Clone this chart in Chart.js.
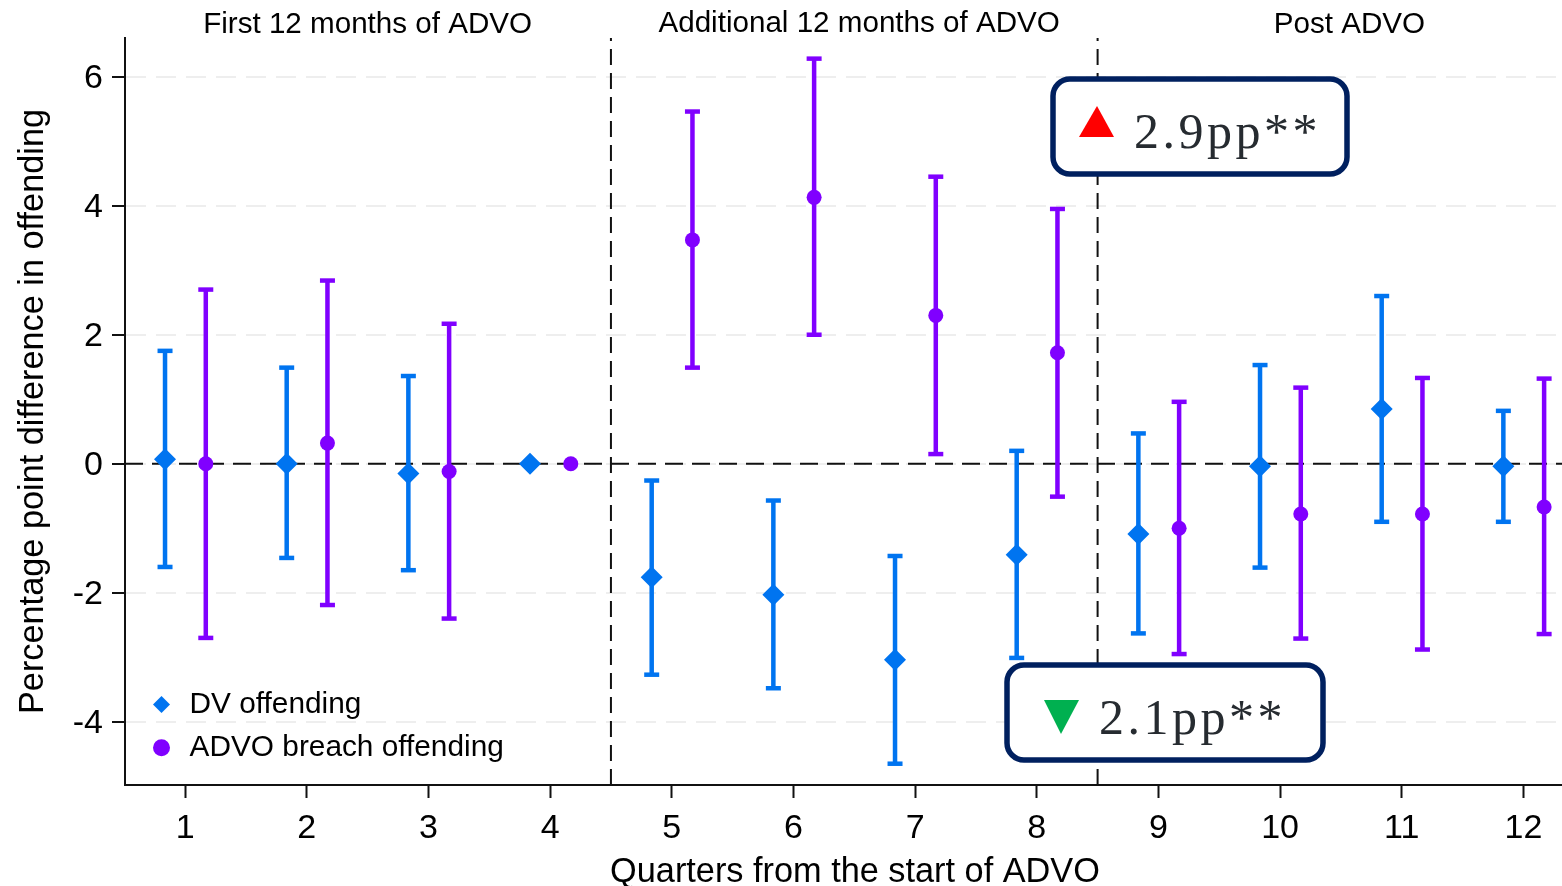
<!DOCTYPE html>
<html>
<head>
<meta charset="utf-8">
<title>Offending by quarter from the start of ADVO</title>
<script src="https://cdn.jsdelivr.net/npm/chart.js@4"></script>
<style>
    html, body { margin: 0; padding: 0; background: #fff; overflow: hidden; }
    #wrap { width: 1562px; height: 886px; overflow: hidden; }
</style>
</head>
<body>
<div id="wrap"><canvas id="offendingChart" width="1597" height="886"></canvas></div>
<script>
var quarters = [1, 2, 3, 4, 5, 6, 7, 8, 9, 10, 11, 12];

var dvMid = [0.07, 0, -0.15, 0, -1.76, -2.03, -3.04, -1.41, -1.09, -0.04, 0.85, -0.04];
var dvHigh = [1.75, 1.49, 1.36, null, -0.26, -0.57, -1.43, 0.2, 0.47, 1.53, 2.6, 0.82];
var dvLow = [-1.6, -1.46, -1.65, null, -3.27, -3.48, -4.65, -3.01, -2.63, -1.61, -0.9, -0.9];

var breachMid = [0, 0.32, -0.12, 0, 3.47, 4.13, 2.3, 1.72, -1.0, -0.78, -0.78, -0.67];
var breachHigh = [2.7, 2.84, 2.17, null, 5.46, 6.28, 4.45, 3.95, 0.96, 1.18, 1.33, 1.32];
var breachLow = [-2.7, -2.19, -2.4, null, 1.49, 2.0, 0.15, -0.51, -2.95, -2.71, -2.88, -2.64];

var sectionLabels = ["First 12 months of ADVO", "Additional 12 months of ADVO", "Post ADVO"];
var sectionCenters = [2.5, 6.54, 10.57];
var sectionBaselines = [25, 24, 25];
var sectionDividers = [4.5, 8.5];

var BLUE = "#0074f0";
var PURPLE = "#8000ff";
var FONT = "'Liberation Sans', Arial, sans-serif";

function midPoints(mid, shift) {
    return quarters.map((q, i) => ({ x: q + shift, y: mid[i] }));
}

// lo/hi pairs with a gap after each so the line breaks between quarters
function whiskerPoints(low, high, shift) {
    var points = [];
    quarters.forEach((q, i) => {
        if (low[i] === null) return;
        points.push({ x: q + shift, y: low[i] });
        points.push({ x: q + shift, y: high[i] });
        points.push({ x: NaN, y: NaN });
    });
    return points;
}

function whiskerDataset(low, high, shift, color) {
    return {
        data: whiskerPoints(low, high, shift),
        showLine: true,
        spanGaps: false,
        borderColor: color,
        borderWidth: 4.5,
        pointStyle: "line",
        pointRadius: 7.5,
        pointBorderColor: color,
        pointBorderWidth: 4.5,
        order: 2
    };
}

function markerDataset(label, mid, shift, color, style, radius) {
    return {
        label: label,
        data: midPoints(mid, shift),
        showLine: false,
        pointStyle: style,
        pointRadius: radius,
        pointBackgroundColor: color,
        pointBorderColor: color,
        pointBorderWidth: 0,
        backgroundColor: color,
        borderColor: color,
        borderWidth: 0,
        order: 1
    };
}

function referenceLine(points, dash) {
    return {
        data: points,
        showLine: true,
        borderColor: "#111",
        borderWidth: 2,
        borderDash: dash,
        pointRadius: 0,
        order: 3
    };
}

function drawCallout(ctx, box, text, textX, baseline, triangle, triangleColor) {
    ctx.beginPath();
    ctx.roundRect(box[0], box[1], box[2], box[3], 17);
    ctx.fillStyle = "#fff";
    ctx.fill();
    ctx.lineWidth = 5.5;
    ctx.strokeStyle = "#00205f";
    ctx.stroke();

    ctx.beginPath();
    ctx.moveTo(triangle[0], triangle[1]);
    ctx.lineTo(triangle[2], triangle[3]);
    ctx.lineTo(triangle[4], triangle[5]);
    ctx.closePath();
    ctx.fillStyle = triangleColor;
    ctx.fill();

    ctx.font = "50px 'Liberation Serif', serif";
    ctx.letterSpacing = "3.5px";
    ctx.textAlign = "left";
    ctx.textBaseline = "alphabetic";
    ctx.fillStyle = "#262b30";
    ctx.fillText(text, textX, baseline);
    ctx.letterSpacing = "0px";
}

var extrasPlugin = {
    id: "extras",
    afterLayout: function (chart) {
        var legend = chart.legend;
        legend.left = 134.8;
        legend.right = legend.left + legend.width;
        legend.top = 676;
        legend.bottom = legend.top + legend.height;
    },
    afterDraw: function (chart) {
        var ctx = chart.ctx;
        var xScale = chart.scales.x;
        ctx.save();
        ctx.font = "29.6px " + FONT;
        ctx.fillStyle = "#000";
        ctx.textAlign = "center";
        ctx.textBaseline = "middle";
        sectionLabels.forEach((label, i) => {
            ctx.fillText(label, xScale.getPixelForValue(sectionCenters[i]), sectionBaselines[i]);
        });
        drawCallout(ctx, [1053, 79, 294, 95], "2.9pp**", 1134, 148, [1097, 106, 1079, 137, 1114, 137], "#ff0000");
        drawCallout(ctx, [1007, 665, 316, 95], "2.1pp**", 1099, 734, [1044, 700, 1079, 700, 1061, 734], "#00b050");
        ctx.restore();
    }
};

new Chart(document.getElementById("offendingChart"), {
    type: "scatter",
    data: {
        datasets: [
            markerDataset("DV offending", dvMid, -0.165, BLUE, "rectRot", 11),
            markerDataset("ADVO breach offending", breachMid, 0.17, PURPLE, "circle", 7.5),
            whiskerDataset(dvLow, dvHigh, -0.165, BLUE),
            whiskerDataset(breachLow, breachHigh, 0.17, PURPLE),
            referenceLine([{ x: 0.506, y: 0 }, { x: 12.506, y: 0 }], [18, 9]),
            referenceLine([{ x: sectionDividers[0], y: -4.98 }, { x: sectionDividers[0], y: 6.6 }], [16, 8]),
            referenceLine([{ x: sectionDividers[1], y: -4.98 }, { x: sectionDividers[1], y: 6.6 }], [16, 8])
        ]
    },
    options: {
        responsive: false,
        animation: false,
        layout: { padding: { top: 38, left: 0, right: 0, bottom: 0 } },
        plugins: {
            tooltip: { enabled: false },
            legend: {
                position: "chartArea",
                align: "start",
                labels: {
                    usePointStyle: true,
                    boxHeight: 12,
                    boxWidth: 26.4,
                    padding: 13.5,
                    color: "#000",
                    font: { family: FONT, size: 29.8 },
                    filter: item => !!item.text
                }
            }
        },
        scales: {
            x: {
                type: "linear",
                min: 0.506,
                max: 12.506,
                afterBuildTicks: scale => { scale.ticks = quarters.map(q => ({ value: q })); },
                afterFit: scale => {
                    scale.height = 101;
                    scale.paddingLeft = 0;
                    scale.paddingRight = 0;
                },
                border: { color: "#111", width: 2 },
                grid: { display: true, drawOnChartArea: false, tickColor: "#111", tickLength: 13, tickWidth: 2 },
                ticks: { autoSkip: false, maxRotation: 0, padding: 10, color: "#000", font: { family: FONT, size: 34 } },
                title: { display: true, text: "Quarters from the start of ADVO", color: "#000", font: { family: FONT, size: 34.3, lineHeight: 1 }, padding: { top: 0, bottom: -4 } }
            },
            y: {
                type: "linear",
                min: -4.98,
                max: 6.6,
                afterFit: scale => { scale.width = 125; },
                border: { color: "#111", width: 2, dash: [20, 10] },
                grid: { color: "#eeeeee", lineWidth: 2, tickColor: "#111", tickLength: 13, tickWidth: 2 },
                ticks: { stepSize: 2, includeBounds: false, padding: 9, labelOffset: 2, color: "#000", font: { family: FONT, size: 34 } },
                title: { display: true, text: "Percentage point difference in offending", color: "#000", font: { family: FONT, size: 34.3, lineHeight: 1 }, padding: { top: 16, bottom: 0 } }
            }
        }
    },
    plugins: [extrasPlugin]
});
</script>
</body>
</html>
